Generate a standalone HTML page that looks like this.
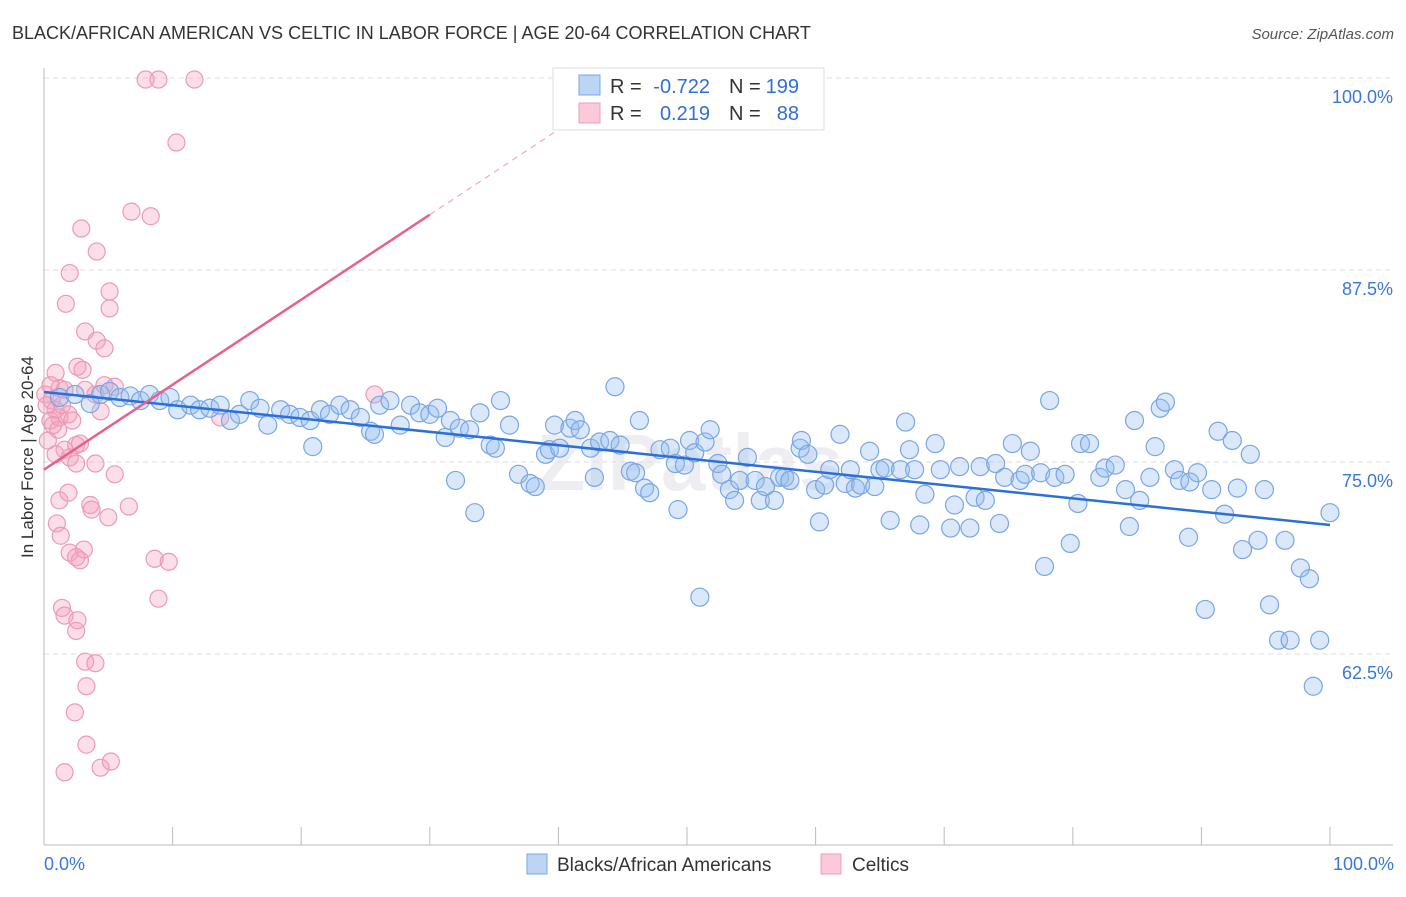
<!DOCTYPE html>
<html><head><meta charset="utf-8"><style>
body{margin:0;background:#fff;font-family:"Liberation Sans",sans-serif}
svg text{font-family:"Liberation Sans",sans-serif}
</style></head><body>
<svg id="chart" width="1406" height="892" xmlns="http://www.w3.org/2000/svg">
<text x="12" y="39" font-size="18" fill="#333">BLACK/AFRICAN AMERICAN VS CELTIC IN LABOR FORCE | AGE 20-64 CORRELATION CHART</text>
<text x="1394" y="39" font-size="15" fill="#555" font-style="italic" text-anchor="end">Source: ZipAtlas.com</text>
<text x="690" y="490" font-size="80" fill="#eeeef2" text-anchor="middle" font-weight="bold">ZIPatlas</text>
<g id="grid"></g>
<g id="axes"></g>
<g id="pink"></g>
<g id="blue"></g>
<g id="trends"></g>
<text transform="translate(33,457) rotate(-90)" font-size="17" fill="#333" text-anchor="middle">In Labor Force | Age 20-64</text>
<g>
<rect x="553" y="68" width="271" height="62" fill="#fff" stroke="#ddd"/>
<rect x="579" y="75" width="21" height="20" fill="#bcd5f5" stroke="#7aa7e6"/>
<rect x="579" y="103" width="21" height="20" fill="#fbc9d8" stroke="#ee9fb9"/>
<text x="610" y="93" font-size="20" fill="#333">R =</text>
<text x="710" y="93" font-size="20" fill="#2f6fd6" text-anchor="end">-0.722</text>
<text x="729" y="93" font-size="20" fill="#333">N =</text>
<text x="799" y="93" font-size="20" fill="#2f6fd6" text-anchor="end">199</text>
<text x="610" y="120" font-size="20" fill="#333">R =</text>
<text x="710" y="120" font-size="20" fill="#2f6fd6" text-anchor="end">0.219</text>
<text x="729" y="120" font-size="20" fill="#333">N =</text>
<text x="799" y="120" font-size="20" fill="#2f6fd6" text-anchor="end">88</text>
</g>
<g>
<rect x="527" y="854" width="20" height="20" fill="#bcd5f5" stroke="#7aa7e6"/>
<text x="557" y="871" font-size="19" fill="#333">Blacks/African Americans</text>
<rect x="821" y="854" width="20" height="20" fill="#fbc9d8" stroke="#ee9fb9"/>
<text x="852" y="871" font-size="19" fill="#333">Celtics</text>
</g>
</svg>
<script>
const yTicks=[100,87.5,75,62.5];
const yTickLabels=["100.0%","87.5%","75.0%","62.5%"];
const xTickVals=[0,10,20,30,40,50,60,70,80,90,100];
const blueX=[1.2,2.4,3.6,4.4,5.1,5.9,6.7,7.5,8.2,9.0,9.8,10.4,11.4,12.1,12.9,13.7,14.5,15.2,16.0,16.8,17.4,18.4,19.1,19.9,20.7,20.9,21.5,22.2,23.0,23.8,24.6,25.4,25.7,26.1,26.9,27.7,28.5,29.2,30.0,30.6,31.2,31.6,32.0,32.3,33.1,33.5,33.9,34.7,35.1,35.5,36.2,36.9,37.8,38.2,39.0,39.3,39.7,40.1,40.9,41.3,41.7,42.5,42.8,43.2,44.0,44.4,44.8,45.6,46.0,46.3,46.7,47.1,47.9,48.7,49.1,49.3,49.8,50.2,50.6,51.0,51.4,51.8,52.4,52.7,53.3,53.7,54.1,54.7,55.3,55.7,56.1,56.8,57.2,57.6,58.0,58.8,58.9,59.4,60.0,60.3,60.7,61.1,61.9,62.3,62.7,63.1,63.5,64.2,64.6,65.0,65.4,65.8,66.6,67.0,67.3,67.7,68.1,68.5,69.3,69.7,70.5,70.8,71.2,72.0,72.4,72.8,73.2,74.0,74.3,74.7,75.3,75.9,76.3,76.7,77.5,77.8,78.2,78.6,79.4,79.8,80.4,80.6,81.3,82.1,82.5,83.3,84.1,84.4,84.8,85.2,86.0,86.4,86.8,87.2,87.9,88.3,89.0,89.1,89.7,90.3,90.8,91.3,91.8,92.4,92.8,93.2,93.8,94.4,94.9,95.3,96.0,96.5,96.9,97.7,98.4,98.7,99.2,100.0];
const blueY=[79.2,79.4,78.8,79.4,79.6,79.2,79.3,79.0,79.4,79.0,79.2,78.4,78.7,78.4,78.5,78.7,77.7,78.1,79.0,78.5,77.4,78.4,78.1,77.9,77.7,76.0,78.4,78.1,78.7,78.4,77.9,77.0,76.8,78.7,79.0,77.4,78.7,78.2,78.1,78.5,76.6,77.7,73.8,77.2,77.1,71.7,78.2,76.1,75.9,79.0,77.4,74.2,73.6,73.4,75.5,75.8,77.4,75.9,77.2,77.7,77.1,75.9,74.0,76.3,76.4,79.9,76.1,74.4,74.3,77.7,73.3,73.0,75.8,75.9,74.9,71.9,74.8,76.4,75.6,66.2,76.3,77.1,74.9,74.2,73.2,72.5,73.8,75.3,73.8,72.5,73.4,72.5,74.0,74.0,73.8,75.9,76.4,75.5,73.2,71.1,73.5,74.5,76.8,73.6,74.5,73.3,73.5,75.7,73.4,74.5,74.6,71.2,74.5,77.6,75.8,74.5,70.9,72.9,76.2,74.5,70.7,72.2,74.7,70.7,72.7,74.7,72.5,74.9,71.0,74.0,76.2,73.8,74.2,75.7,74.3,68.2,79.0,74.0,74.2,69.7,72.3,76.2,76.2,74.0,74.6,74.8,73.2,70.8,77.7,72.5,74.0,76.0,78.5,78.9,74.5,73.8,70.1,73.7,74.3,65.4,73.2,77.0,71.6,76.4,73.3,69.3,75.5,69.9,73.2,65.7,63.4,69.9,63.4,68.1,67.4,60.4,63.4,71.7];
const pinkX=[7.9,8.9,11.7,10.3,6.8,8.3,2.9,4.1,2.0,5.1,5.1,1.7,3.2,4.1,4.7,2.6,0.9,3.0,1.2,0.5,1.6,0.6,0.9,1.2,0.5,1.1,0.3,0.9,1.6,2.5,2.8,2.0,2.5,4.0,1.2,1.0,1.3,1.9,4.4,5.5,5.5,3.6,3.7,6.6,5.0,2.0,3.1,2.5,2.8,8.6,9.7,8.9,1.4,1.6,2.6,2.5,3.2,4.0,3.3,2.4,3.3,4.4,5.2,1.6,13.7,25.7,1.9,2.2,0.1,0.2,3.2,4.0,4.7,0.7,1.4];
const pinkY=[99.9,99.9,99.9,95.8,91.3,91.0,90.2,88.7,87.3,86.1,85.0,85.3,83.5,82.9,82.4,81.2,80.8,81.0,79.8,80.0,79.7,79.0,78.4,77.9,77.7,77.1,76.4,75.5,75.8,76.1,76.2,75.3,74.9,74.9,72.5,71.0,70.2,73.0,78.3,79.9,74.2,72.2,71.9,72.1,71.4,69.1,69.3,68.8,68.6,68.7,68.5,66.1,65.5,65.0,64.7,64.0,62.0,61.9,60.4,58.7,56.6,55.1,55.5,54.8,77.9,79.4,78.1,77.7,79.4,78.7,79.7,79.4,80.0,77.4,78.7];
const blueTrend=[79.56,70.9];
const pinkTrend=[74.5,91.1];
const pinkSolidEnd=30, pinkDashEnd=40;

const NS="http://www.w3.org/2000/svg";
const xs=v=>44+v*12.86;
const ys=v=>78+(100-v)*15.36;
function mk(tag,attrs,parent){const e=document.createElementNS(NS,tag);for(const k in attrs)e.setAttribute(k,attrs[k]);document.getElementById(parent).appendChild(e);return e;}
yTicks.forEach((t,i)=>{
 const l=mk('line',{x1:44,x2:1393,y1:ys(t),y2:ys(t),stroke:'#ddd','stroke-dasharray':'5,4'},'grid');
 
 
 const tx=mk('text',{x:1393,y:ys(t)+25,'font-size':18,fill:'#3a78d8','text-anchor':'end'},'grid');
 tx.textContent=yTickLabels[i];
 
 
});
const ax=mk('line',{x1:44,x2:44,y1:68,y2:845,stroke:'#bbb'},'axes');


const bx=mk('line',{x1:44,x2:1393,y1:845,y2:845,stroke:'#bbb'},'axes');


xTickVals.forEach(v=>{
 const t=mk('line',{x1:xs(v),x2:xs(v),y1:827,y2:845,stroke:'#bbb'},'axes');
 
 
});
const xl0=mk('text',{x:44,y:870,'font-size':18,fill:'#3a78d8'},'axes');xl0.textContent='0.0%';


const xl1=mk('text',{x:1394,y:870,'font-size':18,fill:'#3a78d8','text-anchor':'end'},'axes');xl1.textContent='100.0%';


pinkX.forEach((x,i)=>{
 const c=mk('circle',{cx:xs(x),cy:ys(pinkY[i]),r:8.5,fill:'rgba(244,160,188,0.35)',stroke:'#ec9ab6','stroke-width':1.2},'pink');
 
 
});
blueX.forEach((x,i)=>{
 const c=mk('circle',{cx:xs(x),cy:ys(blueY[i]),r:9,fill:'rgba(150,190,240,0.35)',stroke:'#79a6e4','stroke-width':1.2},'blue');
 
 
});
const pv=x=>pinkTrend[0]+(pinkTrend[1]-pinkTrend[0])*x/30;
const bl=mk('line',{x1:xs(0),y1:ys(blueTrend[0]),x2:xs(100),y2:ys(blueTrend[1]),stroke:'#2b6fd8','stroke-width':2.5},'trends');


const pl=mk('line',{x1:xs(0),y1:ys(pv(0)),x2:xs(pinkSolidEnd),y2:ys(pv(pinkSolidEnd)),stroke:'#e8608e','stroke-width':2.5},'trends');


const pd=mk('line',{x1:xs(pinkSolidEnd),y1:ys(pv(pinkSolidEnd)),x2:xs(pinkDashEnd),y2:ys(pv(pinkDashEnd)),stroke:'#f0a8c0','stroke-width':1.2,'stroke-dasharray':'6,5'},'trends');


</script>
</body></html>
